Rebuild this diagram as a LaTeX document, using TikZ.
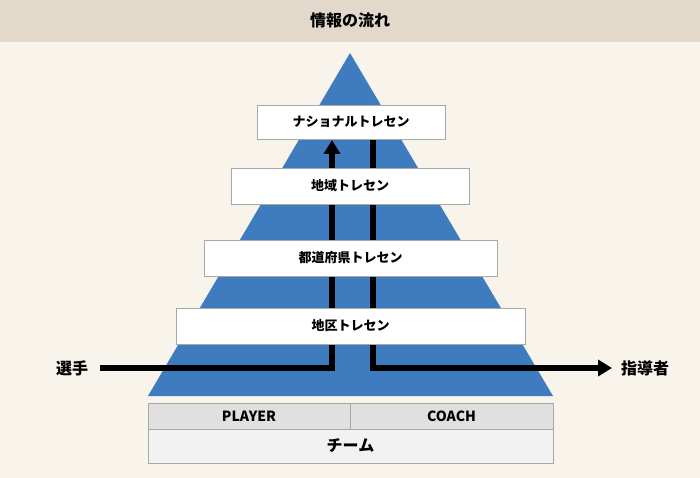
\documentclass[tikz,border=0pt]{standalone}
\usepackage{fontspec}
\setmainfont{Noto Sans CJK JP}
\usetikzlibrary{arrows.meta}
\definecolor{bgcream}{HTML}{F8F4EC}
\definecolor{headbeige}{HTML}{E3D9CB}
\definecolor{pyrblue}{HTML}{3F7BBF}
\definecolor{boxgray}{HTML}{A8A8A8}
\tikzset{
  levelbox/.style={draw=boxgray, fill=white, line width=0.8pt, font=\bfseries\fontsize{13}{15}\selectfont},
  teambox/.style={draw=boxgray, line width=1pt, font=\bfseries\fontsize{14}{16}\selectfont},
  flow/.style={line width=6pt, -{Triangle[length=14pt,width=16pt]}},
  sidelabel/.style={font=\bfseries\fontsize{16}{18}\selectfont}
}
\begin{document}
\begin{tikzpicture}[x=1pt,y=-1pt]
	\useasboundingbox (0,0) rectangle (700,478);
	\fill[bgcream] (0,0) rectangle (700,478);
	\fill[headbeige] (0,0) rectangle (700,42);
	\node[font=\bfseries\fontsize{16}{18}\selectfont] (title) at (350,20) {情報の流れ};
	
	% pyramid
	\fill[pyrblue] (350,53) -- (553,396) -- (148,396) -- cycle;
	
	% flows
	\coordinate (pin) at (100,368);
	\coordinate (pturn) at (332,368);
	\coordinate (ptop) at (332,140);
	\coordinate (cin) at (373,140);
	\coordinate (cturn) at (373,368);
	\coordinate (cout) at (612,368);
	\draw[flow] (pin) -- (pturn) -- (ptop);
	\draw[flow] (cin) -- (cturn) -- (cout);
	\node[sidelabel] (player) at (72,368) {選手};
	\node[sidelabel] (coach) at (645,368) {指導者};
	
	% levels
	\node[levelbox, minimum width=188pt, minimum height=34pt] (national) at (351,122) {ナショナルトレセン};
	\node[levelbox, minimum width=238pt, minimum height=36pt] (region) at (350,186) {地域トレセン};
	\node[levelbox, minimum width=293pt, minimum height=36pt] (pref) at (350.5,258) {都道府県トレセン};
	\node[levelbox, minimum width=349pt, minimum height=36pt] (district) at (350.5,326) {地区トレセン};
	
	% team
	\node[teambox, fill=black!12, minimum width=202pt, minimum height=26pt] (pbox) at (249,416) {PLAYER};
	\node[teambox, fill=black!12, minimum width=203pt, minimum height=26pt] (cbox) at (451.5,416) {COACH};
	\node[teambox, fill=black!5, minimum width=405pt, minimum height=34pt, font=\bfseries\fontsize{16}{18}\selectfont] (team) at (350.5,446) {チーム};
\end{tikzpicture}
\end{document}
